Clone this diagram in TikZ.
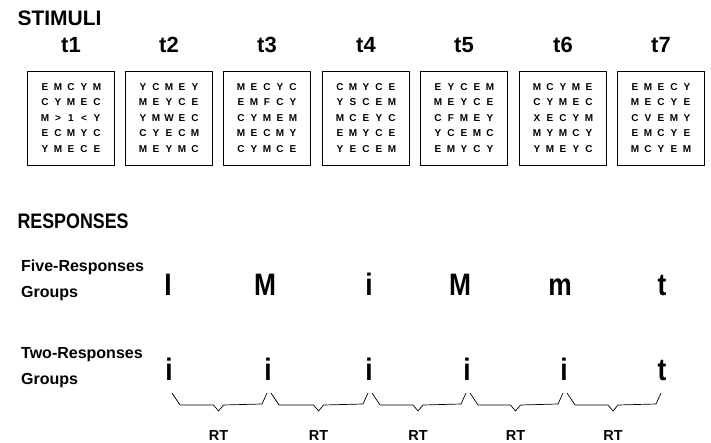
\documentclass[tikz,border=0pt]{standalone}
\usepackage{fontspec}
\setmainfont{Liberation Sans}
\newfontfamily\condfont{Liberation Sans}[FakeStretch=0.85]
\usetikzlibrary{calc}

% one row of a letter grid: every character in a box of fixed width
\newcommand\gridrow[1]{\edef\gridtmp{#1}\expandafter\gridrowstep\gridtmp\relax}
\def\gridrowstep#1{\ifx#1\relax\else\makebox[13pt]{#1}\expandafter\gridrowstep\fi}

\begin{document}
\begin{tikzpicture}[x=1pt,y=-1pt,
  heading/.style={anchor=base west,font=\bfseries\fontsize{21}{21}\selectfont},
  trial/.style={font=\bfseries\fontsize{22}{22}\selectfont},
  gridbox/.style={draw,line width=0.8pt,minimum width=87pt,minimum height=94pt,
    inner sep=0pt,align=center,font=\bfseries\fontsize{10}{15.5}\selectfont},
  grouplabel/.style={anchor=base west,align=left,inner sep=0pt,
    font=\bfseries\fontsize{16}{26}\selectfont},
  resp/.style={anchor=base,inner sep=0pt,font=\condfont\bfseries\fontsize{31}{31}\selectfont},
  brace/.style={line width=0.7pt,line join=round},
  rt/.style={anchor=base,inner sep=0pt,font=\bfseries\fontsize{14.5}{14.5}\selectfont}]
\useasboundingbox (0,0) rectangle (711,443);

% stimuli: trial labels and letter grids
\node[heading] (stim) at (14,26) {STIMULI};
\foreach \i/\x/\ra/\rb/\rc/\rd/\re in {
  1/71/EMCYM/CYMEC/M>1<Y/ECMYC/YMECE,
  2/169/YCMEY/MEYCE/YMWEC/CYECM/MEYMC,
  3/267/MECYC/EMFCY/CYMEM/MECMY/CYMCE,
  4/366/CMYCE/YSCEM/MCEYC/EMYCE/YECEM,
  5/464/EYCEM/MEYCE/CFMEY/YCEMC/EMYCY,
  6/563/MCYME/CYMEC/XECYM/MYMCY/YMEYC,
  7/661/EMECY/MECYE/CVEMY/EMCYE/MCYEM} {
  \node[trial] (lab\i) at (\x,45) {t\i};
  \node[gridbox] (box\i) at (\x,118)
    {\gridrow{\ra}\\\gridrow{\rb}\\\gridrow{\rc}\\\gridrow{\rd}\\\gridrow{\re}};
}

% responses
\node[heading,font=\condfont\bfseries\fontsize{21}{21}\selectfont] (resp) at (14,229) {RESPONSES};
\node[grouplabel] (five) at (21,298) {Five-Responses\\Groups};
\node[grouplabel] (two) at (21,384) {Two-Responses\\Groups};

\foreach \x/\l [count=\k] in {168/I,265/M,369/i,460/M,560/m,662/t}
  \node[resp] (five\k) at (\x,295) {\l};
\foreach \x/\l [count=\k] in {169/i,268/i,369/i,467/i,564/i,662/t}
  \node[resp] (two\k) at (\x,380) {\l};

% reaction-time braces between successive responses
\foreach \a/\b [count=\k] in {1/2,2/3,3/4,4/5,5/6} {
  \coordinate (m\k) at ($(two\a.base)!0.5!(two\b.base)$);
  \draw[brace] ($(two\a.base)+(3,13)$) -- ($(two\a.base)+(11,25)$)
    -- ($(m\k)+(-5,25)$) -- ($(m\k)+(0,31)$) -- ($(m\k)+(5,25)$)
    -- ($(two\b.base)+(-6,24)$) -- ($(two\b.base)+(-1,13)$);
  \node[rt] (rt\k) at ($(m\k)+(0,60)$) {RT};
}
\end{tikzpicture}
\end{document}
